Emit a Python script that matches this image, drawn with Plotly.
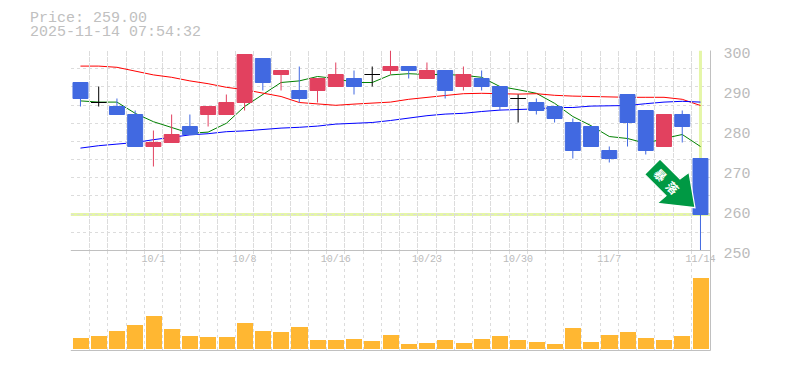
import plotly.graph_objects as go

dates = ["9/25","9/26","9/29","9/30","10/1","10/2","10/3","10/6","10/7","10/8",
         "10/9","10/10","10/14","10/15","10/16","10/17","10/20","10/21","10/22","10/23",
         "10/24","10/27","10/28","10/29","10/30","10/31","11/4","11/5","11/6","11/7",
         "11/10","11/11","11/12","11/13","11/14"]
labelled = ["10/1","10/8","10/16","10/23","10/30","11/7","11/14"]

opens  = [292,287,286,284,276,277,281,284,284,287,298,294,290,290,291,293,294,295,296,293,
          295,291,293,291,288,287,286,282,281,275,289,285,276,284,273]
highs  = [292,291,288,285,280,284,284,286,289,299,298,295,296,293,297,295,296,300,296,297,
          295,296,295,291,289,288,286,283,281,276,289,285,284,285,273]
lows   = [286,286,284,276,271,277,279,281,284,285,290,290,287,287,291,289,291,294,293,293,
          288,290,290,285,282,284,282,273,276,272,276,274,276,277,250]
closes = [288,287,284,276,277,279,279,286,287,299,292,295,288,293,294,291,294,296,295,295,
          290,294,291,286,288,285,283,275,276,273,282,275,284,281,259]
volumes = [11,13,18,24,33,20,13,12,12,26,18,17,22,9,9,10,8,14,
           5,6,9,6,10,13,9,7,5,21,7,14,17,11,9,13,71]

ma_fast = [287.4,287.1,287.1,284.3,282.2,280.8,279.3,279.6,281.8,286,288.9,292,292.4,293.5,293,
           292,292,293.9,294.2,294,294,293.8,293.3,291,290.2,289.3,286.8,283.5,281.2,278.5,
           278,276.8,278,279,276]
ma_mid  = [296.1,296.1,295.8,294.8,293.9,293.3,292.4,291.7,290.8,290.2,289.3,288.5,287,286.6,286.3,
           286.6,286.8,287.1,287.8,288.2,288.75,289.2,289.3,289.2,289.1,289.2,288.8,288.6,288.5,288.3,
           288.3,288.3,288.3,287.8,286.25]
ma_slow = [275.6,276.2,276.6,277,277.7,278.3,278.9,279.2,279.7,279.9,280.3,280.6,280.8,281.1,281.6,
           281.8,282,282.5,283.1,283.7,284.1,284.3,284.75,285.1,285.25,285.4,285.75,285.75,286.1,286.1,
           286.25,286.7,287.1,287.3,287.1]

price_ticks = [250,260,270,280,290,300]
last_price = 259
header = ["Price: 259.00", "2025-11-14 07:54:32"]
arrow_glyphs = ["暴", "落"]

W, H = 785, 370
LEFT, RIGHT = 70.8, 710.5
TOP, MID, BOT = 50.5, 250.5, 350.5
MONO = "Liberation Mono"
GREY = "#c0c0c0"
GRID = "#dcdcdc"
BLUE = "#4169e1"
RED = "#e2415f"
YELLOW = "#e5f6a8"

px = lambda v: v / W
py = lambda v: 1 - v / H

fig = go.Figure()

for vals, col in [(ma_fast, "#008000"), (ma_mid, "#ff0000"), (ma_slow, "#0000ff")]:
    fig.add_trace(go.Scatter(x=dates, y=vals, mode="lines", line=dict(color=col, width=1),
                             xaxis="x", yaxis="y", hoverinfo="skip"))

normal = [i for i in range(len(dates)) if opens[i] != closes[i]]
doji = [i for i in range(len(dates)) if opens[i] == closes[i]]
pick = lambda arr, idx: [arr[i] for i in idx]

fig.add_trace(go.Candlestick(
    x=pick(dates, normal), open=pick(opens, normal), high=pick(highs, normal),
    low=pick(lows, normal), close=pick(closes, normal), xaxis="x", yaxis="y4",
    increasing=dict(line=dict(color=RED, width=1), fillcolor=RED),
    decreasing=dict(line=dict(color=BLUE, width=1), fillcolor=BLUE),
    whiskerwidth=0, hoverinfo="skip"))
fig.add_trace(go.Candlestick(
    x=pick(dates, doji), open=pick(opens, doji), high=pick(highs, doji),
    low=pick(lows, doji), close=pick(closes, doji), xaxis="x", yaxis="y4",
    increasing=dict(line=dict(color="#000000", width=1), fillcolor="#000000"),
    decreasing=dict(line=dict(color="#000000", width=1), fillcolor="#000000"),
    whiskerwidth=0, hoverinfo="skip"))

fig.add_trace(go.Bar(x=dates, y=volumes, marker=dict(color="#ffb732", line=dict(width=0)),
                     width=0.88, xaxis="x2", yaxis="y2", hoverinfo="skip"))

# invisible carrier for the price label axis
fig.add_trace(go.Scatter(x=[dates[0], dates[-1]], y=[price_ticks[0], price_ticks[-1]], mode="lines",
                         line=dict(width=0), opacity=0, xaxis="x", yaxis="y3", hoverinfo="skip"))

tick_text = [d if d in labelled else "" for d in dates]
xcommon = dict(type="category", categoryorder="array", categoryarray=dates,
               domain=[px(LEFT), px(RIGHT)], range=[-0.53, 34.55],
               tickmode="array", tickvals=dates, tickson="boundaries", tickangle=0, automargin=False,
               showgrid=True, gridcolor=GRID, griddash="3px,3px", gridwidth=1,
               zeroline=False, showline=False, rangeslider=dict(visible=False))

fig.update_layout(
    template="none",
    width=W, height=H, autosize=False, margin=dict(l=0, r=0, t=0, b=0, pad=0),
    paper_bgcolor="white", plot_bgcolor="rgba(0,0,0,0)", showlegend=False,
    boxgap=0.18, boxgroupgap=0, bargap=0, hovermode=False,
    font=dict(family=MONO, color="#bbbbbb"),
    xaxis=dict(**xcommon, anchor="y", ticktext=tick_text, ticks="outside", ticklen=6,
               tickcolor="rgba(0,0,0,0)", tickfont=dict(family=MONO, size=10, color="#bbbbbb")),
    xaxis2=dict(**xcommon, anchor="y2", ticktext=[""] * len(dates), ticks=""),
    yaxis=dict(domain=[py(MID), py(TOP)], range=[price_ticks[0], price_ticks[-1]], anchor="x",
               tick0=250, dtick=50 / 11, showticklabels=False, ticks="", automargin=False,
               showgrid=True, gridcolor=GRID, griddash="3px,3px", gridwidth=1, zeroline=False),
    yaxis2=dict(domain=[py(BOT), py(MID)], range=[-2.5, 97.5], anchor="x2", automargin=False,
                showticklabels=False, ticks="", showgrid=False, zeroline=False),
    yaxis3=dict(domain=[py(MID + 2.5), py(TOP + 2.5)], range=[price_ticks[0], price_ticks[-1]],
                anchor="free", position=px(RIGHT), side="right", tickmode="array", automargin=False,
                tickvals=price_ticks, ticktext=[str(t) for t in price_ticks],
                ticks="outside", ticklen=9, tickcolor="rgba(0,0,0,0)", showgrid=False, zeroline=False,
                showline=False, tickfont=dict(family=MONO, size=15, color="#bbbbbb")),
    yaxis4=dict(overlaying="y", range=[price_ticks[0], price_ticks[-1]], anchor="x", automargin=False,
                showticklabels=False, ticks="", showgrid=False, zeroline=False, showline=False),
)

border = dict(color=GREY, width=1)
shapes = [
    dict(type="line", xref="paper", yref="paper", x0=px(LEFT), x1=px(RIGHT), y0=py(MID), y1=py(MID), line=border),
    dict(type="line", xref="paper", yref="paper", x0=px(LEFT), x1=px(RIGHT), y0=py(BOT), y1=py(BOT), line=border),
    dict(type="line", xref="paper", yref="paper", x0=px(RIGHT), x1=px(RIGHT), y0=py(BOT), y1=py(TOP), line=border),
    dict(type="line", xref="paper", yref="y", x0=px(LEFT), x1=px(RIGHT), y0=last_price, y1=last_price,
         line=dict(color=YELLOW, width=3), layer="between"),
    dict(type="line", xref="x", yref="y", x0=dates[-1], x1=dates[-1], y0=last_price, y1=price_ticks[-1],
         line=dict(color=YELLOW, width=3), layer="between"),
]
arrow = [(660, 159), (680, 179), (689, 172.3), (695, 207.7), (657.3, 203.3), (666, 195.7), (644.7, 174.3)]
path = "M " + " L ".join(f"{px(a):.5f},{py(b):.5f}" for a, b in arrow) + " Z"
shapes.append(dict(type="path", xref="paper", yref="paper", path=path, fillcolor="#009944",
                   line=dict(color="white", width=1.2), layer="above"))
fig.update_layout(shapes=shapes)

anns = []
for text, yy in zip(header, (18.5, 32.5)):
    anns.append(dict(text=text, xref="paper", yref="paper", x=px(28), y=py(yy), xanchor="left", yanchor="middle",
                     showarrow=False, font=dict(family=MONO, size=15, color=GREY)))
for g, (a, b) in zip(arrow_glyphs, [(660.7, 174.3), (673.3, 187.3)]):
    anns.append(dict(text=f"<b>{g}</b>", xref="paper", yref="paper", x=px(a), y=py(b), xanchor="center",
                     yanchor="middle", showarrow=False, textangle=45,
                     font=dict(family="Noto Sans CJK JP", size=12, color="white")))
fig.update_layout(annotations=anns)

fig.write_html("out.html", config=dict(displayModeBar=False),
               post_script="document.body.style.margin='0';")
